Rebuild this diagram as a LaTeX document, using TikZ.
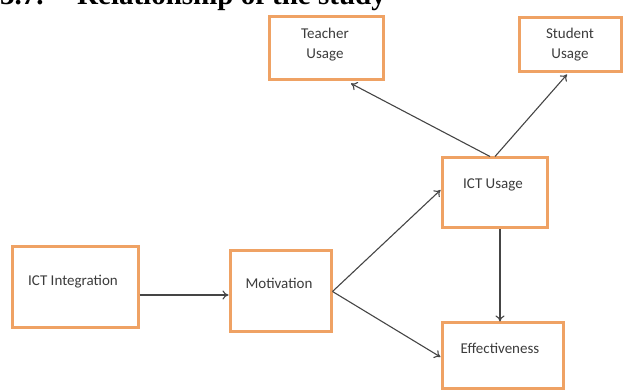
\documentclass[tikz,border=0pt]{standalone}
\usepackage{fontspec}
\setmainfont{Carlito}
\newfontfamily\titlefont{Liberation Serif}
\usetikzlibrary{arrows.meta}
\definecolor{boxorange}{HTML}{EFA264}
\definecolor{linegray}{HTML}{454545}
\definecolor{txtgray}{HTML}{3C3C3C}
\begin{document}
\begin{tikzpicture}[x=1pt,y=-1pt,
  box/.style={draw=boxorange, line width=3pt, fill=white, inner sep=0pt},
  lbl/.style={text=txtgray, font=\fontsize{15}{20}\selectfont, align=center, inner sep=0pt},
  ttl/.style={font=\titlefont\bfseries\fontsize{29}{32}\selectfont, anchor=base west, inner sep=0pt},
  conn/.style={draw=linegray, line width=1.1pt, -{To[length=6pt,width=9pt]}}]
\useasboundingbox (0,0) rectangle (627,390);
% title
\node[ttl] (num) at (0,5) {3.7.};
\node[ttl] (title) at (77,5) {Relationship of the study};
% boxes
\node[box, minimum width=114pt, minimum height=63pt] (teacher) at (326,48.5) {};
\node[box, minimum width=102pt, minimum height=54pt] (student) at (570,45) {};
\node[box, minimum width=105pt, minimum height=70pt] (ictuse) at (494.5,193) {};
\node[box, minimum width=126pt, minimum height=81pt] (ictint) at (75,287.5) {};
\node[box, minimum width=101pt, minimum height=81pt] (motiv) at (280.5,291.5) {};
\node[box, minimum width=121pt, minimum height=65pt] (effect) at (502.5,355.5) {};
% labels
\node[lbl] (teachert) at (325,45) {Teacher\\Usage};
\node[lbl] (studentt) at (570,45) {Student\\Usage};
\node[lbl] (ictuset) at (493,185) {ICT Usage};
\node[lbl] (ictintt) at (73,282) {ICT Integration};
\node[lbl] (motivt) at (279,283) {Motivation};
\node[lbl] (effectt) at (500,348) {Effectiveness};
% connectors
\draw[conn] ([yshift=-7.5pt]ictint.east) -- ([yshift=-3.5pt]motiv.west);
\draw[conn] (motiv.east) -- ([yshift=3pt]ictuse.west);
\draw[conn] (motiv.east) -- ([yshift=-1.5pt]effect.west);
\draw[conn] ([xshift=5.5pt]ictuse.south) -- ([xshift=-2.5pt]effect.north);
\draw[conn] ([xshift=-4.5pt]ictuse.north) -- ([xshift=25pt,yshift=-2pt]teacher.south);
\draw[conn] ([xshift=0.5pt]ictuse.north) -- ([xshift=-3pt,yshift=-1pt]student.south);
\end{tikzpicture}
\end{document}
